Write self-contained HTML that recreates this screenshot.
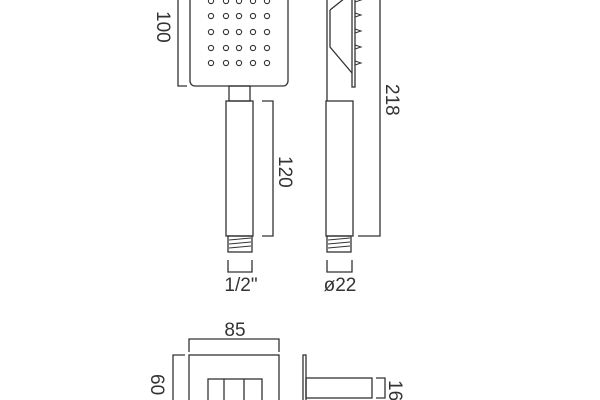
<!DOCTYPE html>
<html><head><style>body{margin:0;background:#fff}svg{display:block}text{font-family:"Liberation Sans Narrow","Liberation Sans",sans-serif;font-size:19px;fill:#333;stroke:none}</style></head><body>
<svg width="600" height="400" viewBox="0 0 600 400" fill="none" stroke="#333" stroke-width="1.3">
<rect x="190" y="-10" width="98" height="96" rx="5"/>
<g stroke-width="1.1">
<g id="r"><circle cx="211" cy="1" r="2.6"/><circle cx="226" cy="1" r="2.6"/><circle cx="239" cy="1" r="2.6"/><circle cx="253" cy="1" r="2.6"/><circle cx="267" cy="1" r="2.6"/></g>
<use href="#r" y="15"/><use href="#r" y="31"/><use href="#r" y="47"/><use href="#r" y="62"/>
</g>
<rect x="229" y="86" width="21" height="15"/>
<rect x="226" y="101" width="27" height="135"/>
<rect x="228" y="236" width="24" height="16"/>
<path d="M229 240l22-2M229 244l22-2M229 248l22-2" stroke-width="1"/>
<path d="M178 -5V86h9"/>
<text x="0" y="0" transform="translate(157,11) rotate(90)">100</text>
<path d="M262 101h11v135h-11"/>
<text x="0" y="0" transform="translate(279,156) rotate(90)">120</text>
<path d="M228 260v12h24v-12M327 260v12h25v-12"/>
<text x="241" y="291" text-anchor="middle">1/2"</text>
<text x="340" y="291" text-anchor="middle">ø22</text>
<path d="M327 -5V101M330 10V47l22 26M330 10l15-12"/>
<rect x="352" y="-5" width="3" height="92"/>
<path d="M355 -2l6 2-6 2M355 13l6 2-6 2M355 29l6 2-6 2M355 45l6 2-6 2M355 61l6 2-6 2" stroke-width="1"/>
<rect x="326" y="101" width="27" height="135"/>
<rect x="327" y="236" width="24" height="16"/>
<path d="M328 240l22-2M328 244l22-2M328 248l22-2" stroke-width="1"/>
<path d="M358 236h22V-5"/>
<text x="0" y="0" transform="translate(386,84) rotate(90)">218</text>
<path d="M189 352v-13h90v13"/>
<text x="235" y="336" text-anchor="middle">85</text>
<rect x="189" y="355" width="90" height="60"/>
<path d="M185 355h-12v50"/>
<text x="0" y="0" transform="translate(151,374) rotate(90)">60</text>
<rect x="208" y="379" width="54" height="22"/>
<path d="M224 379v22M244 379v22"/>
<rect x="303" y="355" width="3" height="50"/>
<rect x="306" y="378" width="66" height="20"/>
<path d="M376 378h9v20h-9"/>
<text x="0" y="0" transform="translate(389,380) rotate(90)">16</text>
</svg>
</body></html>
